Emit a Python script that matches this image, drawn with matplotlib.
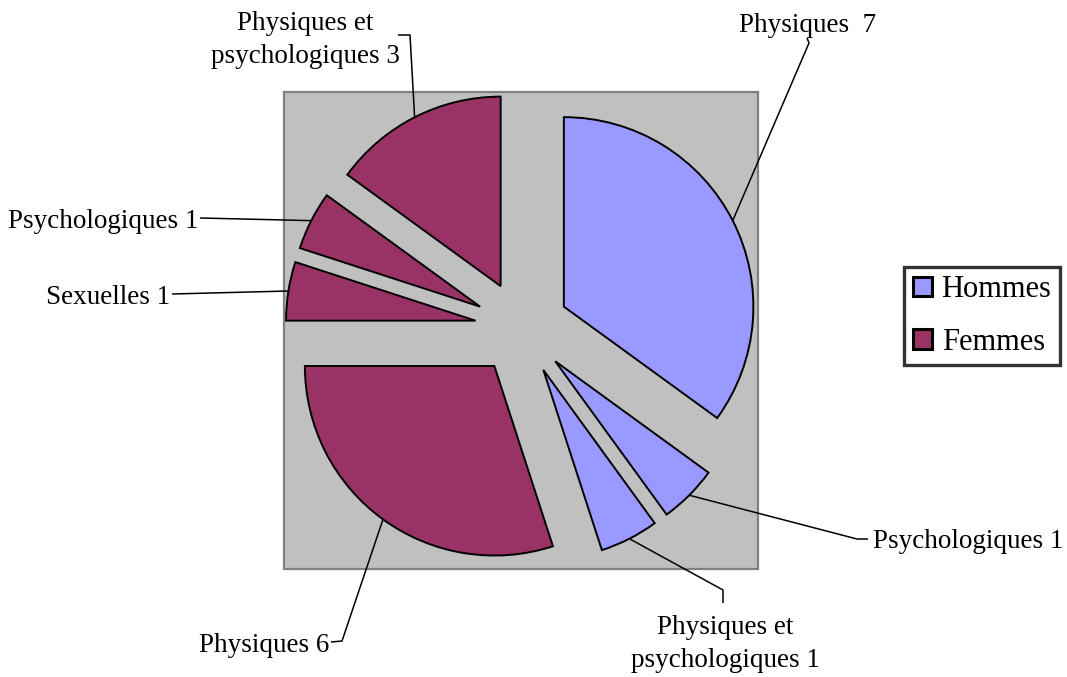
import matplotlib
matplotlib.use('Agg')
import matplotlib.pyplot as plt
import matplotlib.patches as mpatches
import numpy as np

# ---- data ----
groups = ['Hommes', 'Femmes']
group_colors = ['#9999FF', '#993366']
categories = ['Physiques', 'Psychologiques', 'Physiques et psychologiques',
              'Physiques', 'Sexuelles', 'Psychologiques', 'Physiques et psychologiques']
slice_group = [0, 0, 0, 1, 1, 1, 1]
values = [7, 1, 1, 6, 1, 1, 3]
label_texts = ['Physiques  7', 'Psychologiques 1', 'Physiques et\npsychologiques 1',
               'Physiques 6', 'Sexuelles 1', 'Psychologiques 1',
               'Physiques et\npsychologiques 3']

# ---- layout (pixel based) ----
W, H = 1067, 677
cx, cy, R = 522, 328, 189.5

def P(x, y):
    return ((x - cx) / R, (cy - y) / R)

fig = plt.figure(figsize=(W / 100, H / 100), dpi=100)
ax = fig.add_axes([0, 0, 1, 1])

# plot area
x0, y0 = P(284, 569)
ax.add_patch(mpatches.Rectangle((x0, y0), (758 - 284) / R, (569 - 92) / R,
                                facecolor='#C0C0C0', edgecolor='#808080',
                                linewidth=1.6, zorder=0))

colors = [group_colors[g] for g in slice_group]
wedges, _ = ax.pie(values, colors=colors, startangle=90, counterclock=False,
                   explode=[47 / R] * len(values), radius=1, center=(0, 0),
                   wedgeprops=dict(edgecolor='black', linewidth=1.4),
                   frame=True)
for w in wedges:
    w.set_zorder(2)

ax.set_aspect('auto')
ax.set_xlim(-cx / R, (W - cx) / R)
ax.set_ylim(-(H - cy) / R, cy / R)
ax.axis('off')

# labels: (elbow points in px, text anchor px, ha, baseline of first line)
label_layout = [
    ([(809, 43), (807, 38)], 808, 'center', 32),
    ([(857, 539), (868, 539)], 873, 'left', 548),
    ([(723, 590), (723, 603)], 725, 'center', 634),
    ([(342, 641), (331, 642)], 329, 'right', 652),
    ([(172, 294)], 170, 'right', 304),
    ([(200, 218)], 198, 'right', 228),
    ([(410, 35), (398, 35)], 305, 'center', 30),
]
font = dict(family=['Liberation Serif', 'DejaVu Serif'], size=19.5)
for w, txt, (pts, tx, ha, base) in zip(wedges, label_texts, label_layout):
    tm = np.deg2rad((w.theta1 + w.theta2) / 2)
    ax_x = w.center[0] + w.r * np.cos(tm)
    ax_y = w.center[1] + w.r * np.sin(tm)
    xs = [ax_x] + [P(*p)[0] for p in pts]
    ys = [ax_y] + [P(*p)[1] for p in pts]
    ax.plot(xs, ys, color='black', linewidth=1.1, zorder=3, solid_capstyle='butt')
    for i, line in enumerate(txt.split('\n')):
        px, py = P(tx, base + 33 * i)
        ax.text(px, py, line, ha=ha, va='baseline', color='black', **font)

# legend
handles = [mpatches.Patch(facecolor=group_colors[i], edgecolor='black', linewidth=2.2)
           for i in range(len(groups))]
leg = fig.legend(handles, groups, loc='center',
                 bbox_to_anchor=(982 / W, 1 - 316 / H),
                 prop=dict(family=['Liberation Serif', 'DejaVu Serif'], size=22),
                 frameon=True, fancybox=False, shadow=False,
                 borderpad=0.28, handlelength=0.65, handleheight=0.6,
                 handletextpad=0.3, labelspacing=0.78, borderaxespad=0)
leg.get_frame().set_edgecolor('black')
leg.get_frame().set_linewidth(2.4)

fig.savefig('out.png', dpi=100, facecolor='white')
